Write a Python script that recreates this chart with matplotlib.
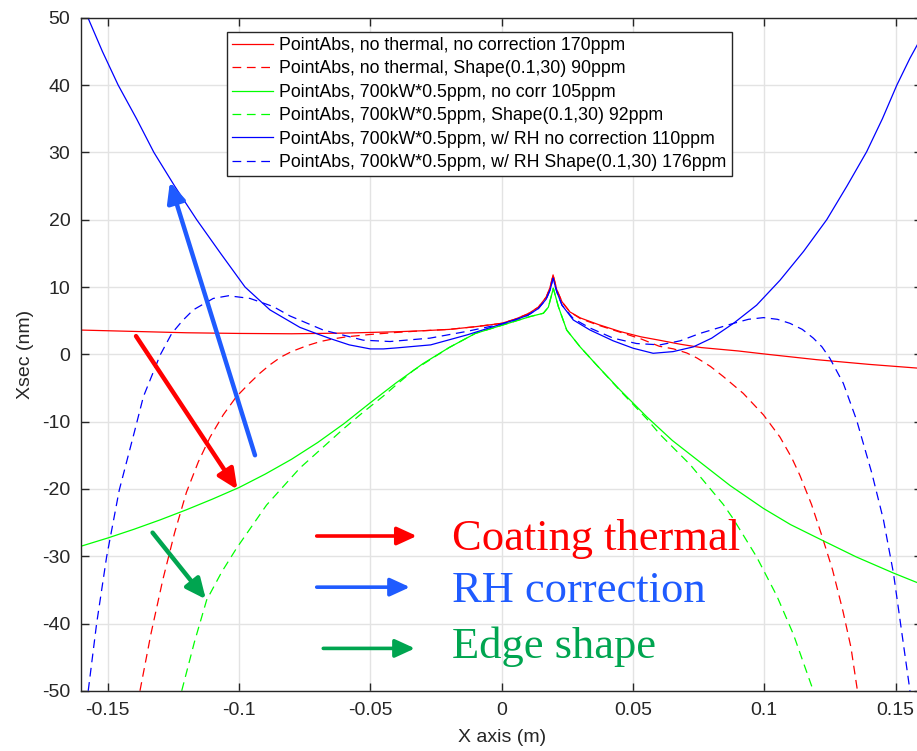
import numpy as np
import matplotlib
matplotlib.use("Agg")
import matplotlib.pyplot as plt

# ---- series: x (m) and cross-section (nm) ----
red_solid_x = [-0.16, -0.14, -0.12, -0.10, -0.08, -0.06, -0.04, -0.03, -0.02, -0.01, 0.0,
               0.005, 0.01, 0.014, 0.017, 0.0185, 0.0196, 0.021, 0.023, 0.026, 0.03, 0.037,
               0.045, 0.053, 0.06, 0.068, 0.076, 0.09, 0.10, 0.12, 0.14, 0.16]
red_solid_y = [3.6, 3.4, 3.2, 3.1, 3.05, 3.15, 3.35, 3.5, 3.7, 4.1, 4.6,
               5.2, 6.0, 7.0, 8.5, 10.0, 11.8, 9.6, 7.8, 6.3, 5.4, 4.4,
               3.4, 2.6, 2.1, 1.5, 1.0, 0.5, 0.05, -0.8, -1.5, -2.1]

red_dash_x = [-0.1377, -0.1335, -0.129, -0.1245, -0.120, -0.1155, -0.111, -0.106, -0.101,
              -0.096, -0.092, -0.088, -0.084, -0.08, -0.074, -0.069, -0.064, -0.059, -0.05,
              -0.04, -0.03, -0.02, -0.01, 0.0, 0.005, 0.01, 0.014, 0.017, 0.0185, 0.0196,
              0.021, 0.023, 0.026, 0.03, 0.037, 0.045, 0.053, 0.06, 0.0655, 0.0705, 0.0744,
              0.0795, 0.0844, 0.092, 0.0997, 0.106, 0.1105, 0.1136, 0.118, 0.1219, 0.126,
              0.130, 0.133, 0.1355]
red_dash_y = [-50, -41.5, -33.5, -26.5, -20.5, -16.0, -12.3, -9.0, -6.3,
              -4.3, -2.8, -1.5, -0.4, 0.4, 1.3, 1.9, 2.3, 2.6, 2.95,
              3.25, 3.5, 3.7, 4.1, 4.6, 5.2, 6.0, 7.0, 8.5, 10.0, 11.8,
              9.6, 7.8, 6.3, 5.3, 4.3, 3.3, 2.3, 1.2, 0.8, 0.2, -0.55,
              -1.8, -3.3, -5.8, -9.0, -12.3, -15.4, -18.0, -22.3, -26.9, -32.0,
              -38.2, -43.5, -50]

green_solid_x = [-0.16, -0.15, -0.14, -0.13, -0.12, -0.11, -0.10, -0.09, -0.08, -0.07, -0.06,
                 -0.05, -0.04, -0.03, -0.02, -0.01, 0.0, 0.0108, 0.0159, 0.0178, 0.0197,
                 0.0216, 0.0248, 0.0299, 0.0362, 0.0451, 0.0553, 0.065, 0.0755, 0.087, 0.0997,
                 0.11, 0.1219, 0.135, 0.1492, 0.16]
green_solid_y = [-28.5, -27.3, -26.0, -24.6, -23.1, -21.5, -19.8, -17.8, -15.6, -13.1, -10.3,
                 -7.2, -4.2, -1.4, 1.0, 3.1, 4.3, 5.6, 6.1, 7.0, 9.8,
                 7.1, 3.6, 1.1, -1.6, -5.3, -9.3, -12.8, -16.0, -19.5, -22.9,
                 -25.3, -27.6, -30.1, -32.5, -34.2]

green_dash_x = [-0.1218, -0.117, -0.1123, -0.1065, -0.1009, -0.0895, -0.0768, -0.0691, -0.06,
                -0.0527, -0.045, -0.04, -0.0336, -0.02, -0.01, 0.0, 0.0108, 0.0159, 0.0178,
                0.0197, 0.0216, 0.0248, 0.0299, 0.0362, 0.0451, 0.0553, 0.0603, 0.0718, 0.0844,
                0.0883, 0.0971, 0.1048, 0.1111, 0.1187]
green_dash_y = [-50, -42.8, -36.5, -32.3, -28.8, -22.4, -16.9, -14.2, -11.0,
                -8.6, -6.2, -4.5, -2.4, 1.0, 3.1, 4.3, 5.6, 6.1, 7.0,
                9.8, 7.1, 3.6, 1.1, -1.6, -5.4, -9.6, -11.9, -16.4, -22.3,
                -24.5, -30.1, -35.9, -41.6, -50]

blue_solid_x = [-0.1575, -0.152, -0.146, -0.139, -0.1324, -0.1245, -0.1161, -0.107, -0.0977,
                -0.0882, -0.0768, -0.07, -0.065, -0.058, -0.05, -0.045, -0.04, -0.027, -0.013,
                0.0, 0.005, 0.01, 0.014, 0.017, 0.0185, 0.0196, 0.021, 0.023, 0.0273, 0.0337,
                0.0425, 0.0501, 0.0577, 0.0653, 0.073, 0.08, 0.0883, 0.0971, 0.106, 0.115,
                0.1238, 0.1315, 0.139, 0.145, 0.1505, 0.1555, 0.16]
blue_solid_y = [50, 45, 40, 35, 30, 25, 20, 15, 10,
                6.6, 4.0, 3.0, 2.3, 1.4, 0.8, 0.8, 0.95, 1.4, 2.9,
                4.5, 5.1, 5.8, 6.8, 8.2, 9.6, 11.3, 9.3, 7.3, 5.1, 3.6,
                2.0, 0.9, 0.15, 0.4, 1.1, 2.4, 4.6, 7.3, 11.0, 15.3,
                20.0, 25.0, 30.1, 35.0, 40.0, 44.0, 47.2]

blue_dash_x = [-0.1574, -0.1542, -0.1504, -0.1456, -0.1396, -0.1364, -0.130, -0.1256, -0.1215,
               -0.1174, -0.1098, -0.104, -0.0958, -0.087, -0.0806, -0.0679, -0.0527, -0.0425,
               -0.0273, -0.0133, 0.0, 0.005, 0.01, 0.014, 0.017, 0.0185, 0.0196, 0.021, 0.023,
               0.0273, 0.0337, 0.0425, 0.0514, 0.0603, 0.068, 0.0755, 0.0883, 0.094, 0.0997,
               0.105, 0.1098, 0.1145, 0.1187, 0.122, 0.125, 0.1301, 0.1352, 0.141, 0.1454,
               0.1492, 0.1555]
blue_dash_y = [-50, -40, -30.1, -20.2, -11.2, -6.3, -0.1, 3.1, 5.0,
               6.6, 8.3, 8.7, 8.3, 7.1, 5.7, 3.6, 2.1, 1.9,
               2.4, 3.4, 4.5, 5.1, 5.8, 6.8, 8.2, 9.6, 11.3, 9.3, 7.3,
               5.3, 3.9, 2.4, 1.6, 1.4, 2.0, 3.1, 4.6, 5.2, 5.45,
               5.2, 4.6, 3.7, 2.4, 1.1, -0.6, -4.3, -9.8, -17.7, -24.6,
               -32.5, -50]

labels = [
    "PointAbs, no thermal, no correction 170ppm",
    "PointAbs, no thermal, Shape(0.1,30) 90ppm",
    "PointAbs, 700kW*0.5ppm, no corr 105ppm",
    "PointAbs, 700kW*0.5ppm, Shape(0.1,30) 92ppm",
    "PointAbs, 700kW*0.5ppm, w/ RH no correction 110ppm",
    "PointAbs, 700kW*0.5ppm, w/ RH Shape(0.1,30) 176ppm",
]

x_ticks = [-0.15, -0.1, -0.05, 0, 0.05, 0.1, 0.15]
x_tick_labels = ["-0.15", "-0.1", "-0.05", "0", "0.05", "0.1", "0.15"]
y_ticks = [-50, -40, -30, -20, -10, 0, 10, 20, 30, 40, 50]

plt.rcParams["font.family"] = ["Liberation Sans", "DejaVu Sans"]
plt.rcParams["axes.unicode_minus"] = False
AX = "#262626"

fig = plt.figure(figsize=(9.17, 7.51), dpi=100)
ax = fig.add_axes([81.4 / 917, 60.2 / 751, 840.4 / 917, 673.0 / 751])

lw = 0.9
dash = (0, (7, 4.5))
series = [
    (red_solid_x, red_solid_y, "#ff0000", "-"),
    (red_dash_x, red_dash_y, "#ff0000", dash),
    (green_solid_x, green_solid_y, "#00ff00", "-"),
    (green_dash_x, green_dash_y, "#00ff00", dash),
    (blue_solid_x, blue_solid_y, "#0000ff", "-"),
    (blue_dash_x, blue_dash_y, "#0000ff", dash),
]
for (xs, ys, c, ls), lab in zip(series, labels):
    ax.plot(xs, ys, color=c, linestyle=ls, lw=lw, label=lab)

ax.set_xlim(-0.16, 0.16)
ax.set_ylim(-50, 50)
ax.set_xticks(x_ticks)
ax.set_xticklabels(x_tick_labels)
ax.set_yticks(y_ticks)
ax.grid(True, color="#e3e3e3", lw=1.0)
ax.set_axisbelow(True)
for s in ax.spines.values():
    s.set_color(AX)
    s.set_linewidth(1.0)
ax.tick_params(direction="in", length=6, width=1.0, color=AX, labelcolor=AX,
               labelsize=14, top=True, right=True, pad=8)
ax.set_xlabel("X axis (m)", fontsize=14, color=AX, labelpad=7)
ax.set_ylabel("Xsec (nm)", fontsize=14, color=AX, labelpad=6)

leg = ax.legend(loc="upper left", bbox_to_anchor=(0.1729, 0.9793), borderaxespad=0,
                fontsize=12.8, frameon=True, fancybox=False, framealpha=1,
                edgecolor=AX, handlelength=2.3, labelspacing=0.36,
                handletextpad=0.35, borderpad=0.3)
leg.get_frame().set_linewidth(1.0)

# diagonal arrows
def arrow(tail, tip, color, lw_=3.2, hl=12, hw=5.5):
    ax.annotate("", xy=tip, xytext=tail,
                arrowprops=dict(arrowstyle=f"-|>,head_length={hl},head_width={hw}",
                                mutation_scale=1, color=color, lw=lw_,
                                shrinkA=0, shrinkB=0))

RED = "#ff0000"
BLUE = "#1f5bff"
GREEN = "#00a550"
arrow((-0.1392, 2.7), (-0.1006, -20.1), RED)
arrow((-0.0939, -15.0), (-0.1263, 25.6), BLUE)
arrow((-0.1329, -26.5), (-0.1126, -36.4), GREEN)

# key arrows with their captions
arrow((-0.0704, -27.0), (-0.0323, -27.0), RED, lw_=2.6)
arrow((-0.0704, -34.6), (-0.0349, -34.6), BLUE, lw_=2.6)
arrow((-0.0679, -43.7), (-0.0330, -43.7), GREEN, lw_=2.6)

serif = ["Liberation Serif", "DejaVu Serif"]
ax.text(-0.019, -29.1, "Coating thermal", color=RED, fontsize=32, family=serif, va="baseline")
ax.text(-0.019, -36.8, "RH correction", color=BLUE, fontsize=32, family=serif, va="baseline")
ax.text(-0.019, -45.2, "Edge shape", color=GREEN, fontsize=32, family=serif, va="baseline")

fig.savefig("out.png", dpi=100)
